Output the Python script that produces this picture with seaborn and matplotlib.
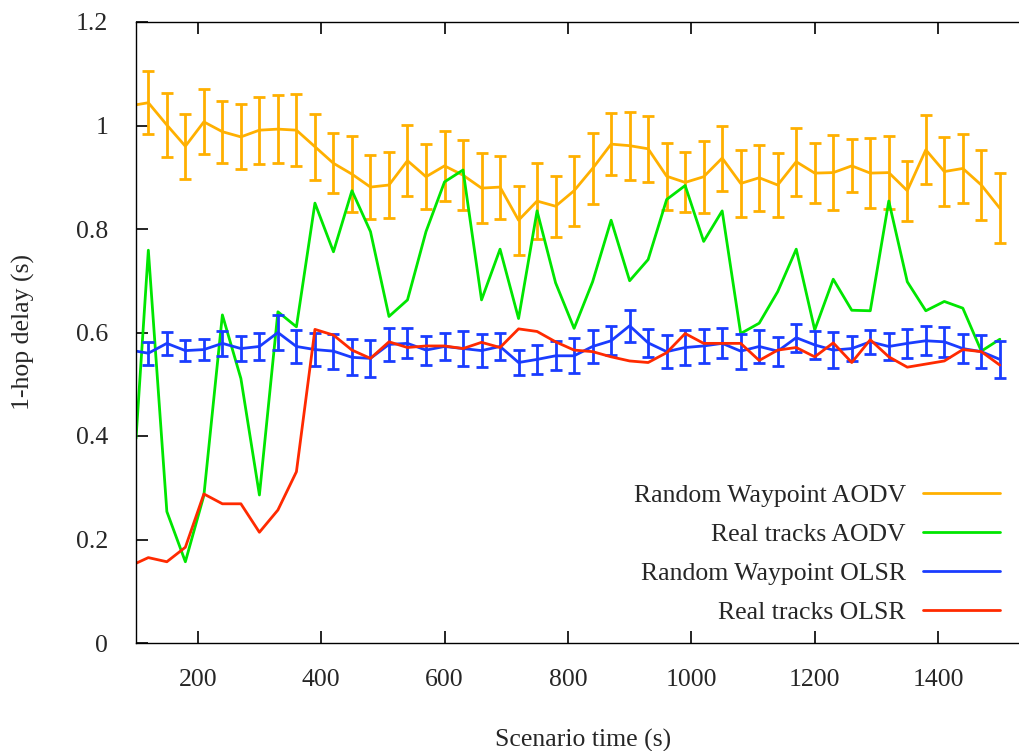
import numpy as np
import pandas as pd
import seaborn as sns
import matplotlib.pyplot as plt
from matplotlib.ticker import FuncFormatter

# scenario time (s)
time_s = [100, 120, 150, 180, 210, 240, 270, 300, 330, 360, 390, 420, 450, 480,
          510, 540, 570, 600, 630, 660, 690, 720, 750, 780, 810, 840, 870, 900,
          930, 960, 990, 1020, 1050, 1080, 1110, 1140, 1170, 1200, 1230, 1260,
          1290, 1320, 1350, 1380, 1410, 1440, 1470, 1500]

rwp_aodv = [1.040, 1.044, 1.001, 0.960, 1.007, 0.988, 0.978, 0.991, 0.993, 0.991,
            0.959, 0.927, 0.906, 0.881, 0.885, 0.932, 0.901, 0.922, 0.904, 0.879,
            0.881, 0.817, 0.854, 0.844, 0.874, 0.917, 0.964, 0.961, 0.955, 0.902,
            0.890, 0.901, 0.937, 0.888, 0.899, 0.885, 0.930, 0.908, 0.909, 0.922,
            0.908, 0.909, 0.874, 0.953, 0.911, 0.917, 0.885, 0.840]
rwp_aodv_err = [np.nan, 0.061, 0.062, 0.063, 0.063, 0.060, 0.063, 0.065, 0.065, 0.069,
                0.064, 0.058, 0.074, 0.062, 0.063, 0.069, 0.063, 0.068, 0.068, 0.067,
                0.061, 0.067, 0.074, 0.059, 0.068, 0.069, 0.060, 0.066, 0.064, 0.065,
                0.058, 0.070, 0.063, 0.064, 0.064, 0.061, 0.066, 0.058, 0.073, 0.051,
                0.067, 0.071, 0.058, 0.067, 0.067, 0.067, 0.067, 0.068]

real_aodv = [0.395, 0.759, 0.254, 0.157, 0.285, 0.634, 0.511, 0.286, 0.640, 0.611,
             0.850, 0.756, 0.874, 0.795, 0.631, 0.663, 0.795, 0.891, 0.914, 0.663,
             0.761, 0.627, 0.835, 0.696, 0.608, 0.698, 0.817, 0.700, 0.741, 0.857,
             0.884, 0.776, 0.835, 0.598, 0.618, 0.679, 0.761, 0.605, 0.703, 0.643,
             0.642, 0.854, 0.698, 0.642, 0.660, 0.647, 0.564, 0.587]

rwp_olsr = [0.564, 0.560, 0.579, 0.565, 0.567, 0.579, 0.569, 0.573, 0.600, 0.573,
            0.567, 0.564, 0.552, 0.550, 0.577, 0.579, 0.566, 0.573, 0.569, 0.565,
            0.573, 0.542, 0.548, 0.555, 0.555, 0.573, 0.584, 0.613, 0.580, 0.563,
            0.571, 0.574, 0.579, 0.564, 0.573, 0.564, 0.590, 0.576, 0.566, 0.569,
            0.582, 0.573, 0.579, 0.584, 0.582, 0.569, 0.563, 0.548]
rwp_olsr_err = [np.nan, 0.022, 0.022, 0.020, 0.020, 0.024, 0.025, 0.027, 0.033, 0.032,
                0.032, 0.034, 0.035, 0.036, 0.032, 0.029, 0.028, 0.027, 0.034, 0.032,
                0.026, 0.025, 0.028, 0.028, 0.034, 0.031, 0.028, 0.031, 0.027, 0.032,
                0.033, 0.032, 0.029, 0.034, 0.032, 0.028, 0.027, 0.027, 0.035, 0.025,
                0.023, 0.027, 0.028, 0.028, 0.029, 0.028, 0.032, 0.036]

real_olsr = [0.154, 0.165, 0.157, 0.185, 0.288, 0.269, 0.269, 0.214, 0.257, 0.331,
             0.606, 0.595, 0.566, 0.550, 0.582, 0.571, 0.574, 0.574, 0.569, 0.581,
             0.571, 0.607, 0.602, 0.582, 0.566, 0.563, 0.553, 0.545, 0.542, 0.561,
             0.598, 0.579, 0.579, 0.579, 0.546, 0.566, 0.571, 0.553, 0.580, 0.542,
             0.586, 0.553, 0.533, 0.539, 0.545, 0.567, 0.563, 0.537]

labels = ['Random Waypoint AODV', 'Real tracks AODV',
          'Random Waypoint OLSR', 'Real tracks OLSR']
colors = ['#ffb000', '#00e600', '#1a3cff', '#ff2a00']

sns.set_style('ticks')
plt.rcParams['font.family'] = ['Liberation Serif', 'DejaVu Serif']
plt.rcParams['font.size'] = 18.5

fig = plt.figure(figsize=(10.2, 7.51), dpi=100)
ax = fig.add_axes([136 / 1020, 108 / 751, 894.7 / 1020, 621 / 751])

series = [(rwp_aodv, rwp_aodv_err), (real_aodv, None),
          (rwp_olsr, rwp_olsr_err), (real_olsr, None)]
handles = []
for (vals, err), lab, col in zip(series, labels, colors):
    df = pd.DataFrame({'time': time_s, 'delay': vals})
    sns.lineplot(data=df, x='time', y='delay', color=col, linewidth=2.0,
                 ax=ax, sort=False, legend=False)
    handles.append(ax.get_lines()[-1])
    if err is not None:
        ax.errorbar(time_s, vals, yerr=err, fmt='none', ecolor=col,
                    elinewidth=2.0, capsize=4.5, capthick=2.0)

ax.set_xlim(100, 1550)
ax.set_ylim(0, 1.2)
ax.set_xticks([200, 400, 600, 800, 1000, 1200, 1400])
ax.set_yticks([0, 0.2, 0.4, 0.6, 0.8, 1.0, 1.2])
ax.yaxis.set_major_formatter(FuncFormatter(lambda v, p: f'{v:g}'))
ax.tick_params(axis='both', direction='in', length=8.6, width=1.2,
               top=True, right=True, labelsize=18.5, color='black')
ax.tick_params(axis='x', pad=19)
ax.tick_params(axis='y', pad=20)
for s in ax.spines.values():
    s.set_linewidth(1.0)
    s.set_color('black')

ax.set_xlabel('Scenario time (s)', fontsize=18.5)
ax.set_ylabel('1-hop delay (s)', fontsize=18.5)
ax.xaxis.set_label_coords(0.5, -0.138)
ax.yaxis.set_label_coords(-0.113, 0.5)

ax.legend(handles, labels, loc='lower right', frameon=False, markerfirst=False,
          bbox_to_anchor=(1000 / 1020, 127 / 751), bbox_transform=fig.transFigure,
          borderpad=0, borderaxespad=0, handlelength=3.0, handletextpad=0.66,
          labelspacing=0.62, fontsize=18.5)

fig.savefig('out.png', dpi=100)
